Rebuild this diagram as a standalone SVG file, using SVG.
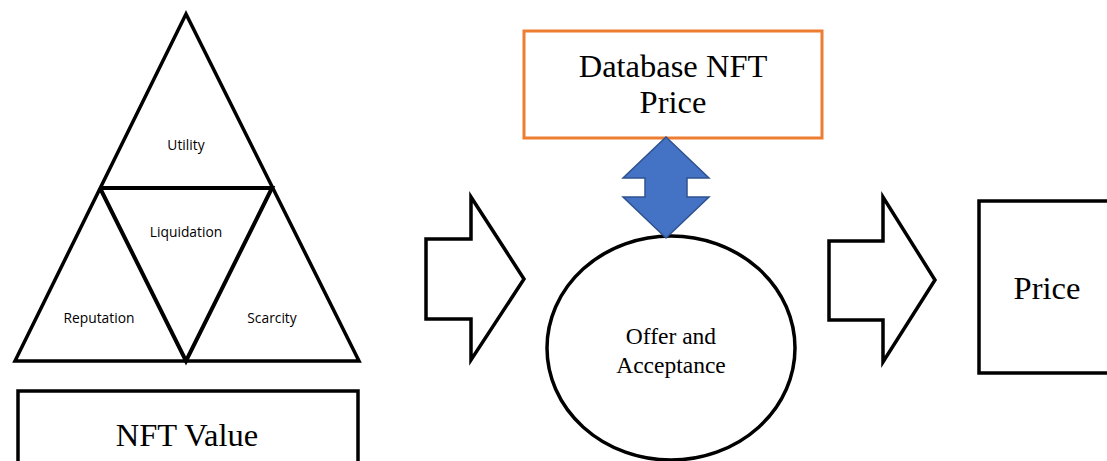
<svg xmlns="http://www.w3.org/2000/svg" width="1107" height="461" viewBox="0 0 1107 461">
<style>
.k{fill:#fff;stroke:#000;stroke-width:3.5;stroke-linejoin:miter}
.s{font-family:"Open Sans","Liberation Sans",sans-serif;font-size:13.8px;fill:#000;text-anchor:middle}
.t{font-family:"Liberation Serif",serif;fill:#000;text-anchor:middle}
</style>
<rect width="1107" height="461" fill="#fff"/>
<g id="pyramid">
<polygon class="k" points="186,14 15,361 359,361" stroke-width="4"/>
<polyline fill="none" stroke="#000" stroke-width="4" points="100,188 272,188 186,361 100,188"/>
<text class="s" x="186" y="150">Utility</text>
<text class="s" x="186" y="237">Liquidation</text>
<text class="s" x="99" y="323">Reputation</text>
<text class="s" x="272" y="323">Scarcity</text>
</g>
<g id="nft-value">
<rect class="k" x="18" y="391" width="340" height="80" stroke-width="3"/>
<text class="t" x="187" y="446" font-size="32.5">NFT Value</text>
</g>
<g id="database">
<rect x="524" y="31" width="298" height="107" fill="#fff" stroke="#ED7D31" stroke-width="3"/>
<text class="t" x="673" y="77" font-size="32.5">Database NFT</text>
<text class="t" x="673" y="113" font-size="32.5">Price</text>
</g>
<g id="offer">
<ellipse class="k" cx="671" cy="348" rx="124" ry="112"/>
<text class="t" x="671" y="344" font-size="23.5">Offer and</text>
<text class="t" x="671" y="373" font-size="23.5">Acceptance</text>
</g>
<g id="price">
<rect class="k" x="979" y="201" width="140" height="172" stroke-width="3"/>
<text class="t" x="1047" y="299" font-size="32.5">Price</text>
</g>
<g id="connectors">
<polygon fill="#4472C4" stroke="#2F528F" stroke-width="1.5" points="666,137 709,178 687,178 687,197 709,197 666,238 623,197 645,197 645,178 623,178"/>
<polygon class="k" points="426,239 471,239 471,197 524,279 471,360 471,319 426,319"/>
<polygon class="k" points="829,241 883,241 883,197 935,280 883,362 883,320 829,320"/>
</g>
</svg>
